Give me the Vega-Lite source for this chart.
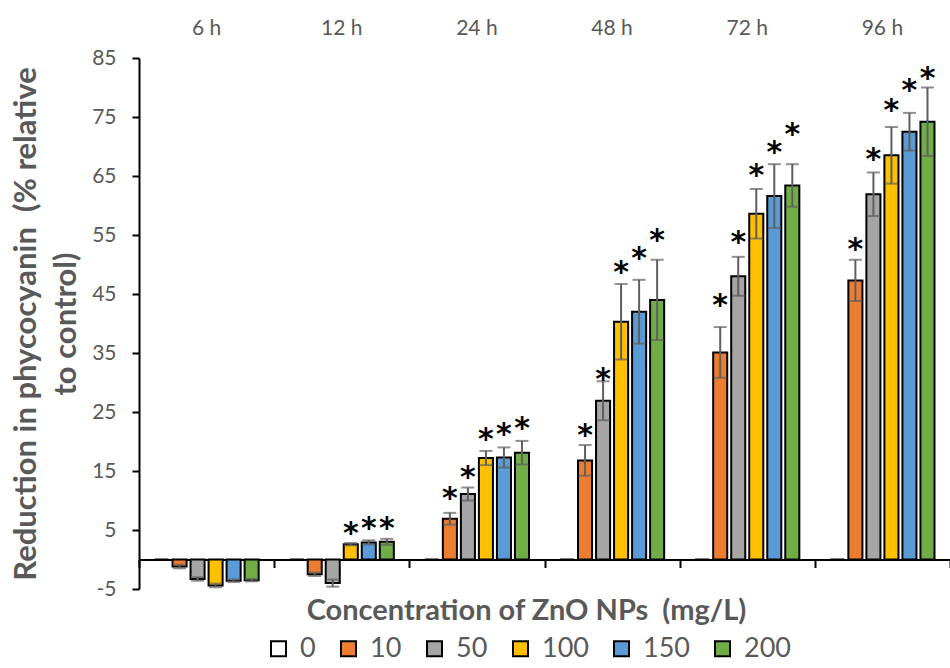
{
  "$schema": "https://vega.github.io/schema/vega-lite/v6.json",
  "width": 811,
  "height": 531,
  "autosize": {"type": "none"},
  "padding": {"left": 139, "top": 58, "right": 0, "bottom": 79},
  "background": "white",
  "config": {"view": {"stroke": null}, "font": "Lato", "axis": {"grid": false}},
  "data": {
    "values": [
      {"time": "6 h", "conc": "0", "v": 0, "lo": null, "hi": null, "star": null},
      {"time": "6 h", "conc": "10", "v": -1.2, "lo": -1.5, "hi": -0.9, "star": null},
      {"time": "6 h", "conc": "50", "v": -3.3, "lo": -3.6, "hi": -3.0, "star": null},
      {"time": "6 h", "conc": "100", "v": -4.4, "lo": -4.7, "hi": -4.1, "star": null},
      {"time": "6 h", "conc": "150", "v": -3.6, "lo": -3.8, "hi": -3.4, "star": null},
      {"time": "6 h", "conc": "200", "v": -3.5, "lo": -3.7, "hi": -3.3, "star": null},
      {"time": "12 h", "conc": "0", "v": 0, "lo": null, "hi": null, "star": null},
      {"time": "12 h", "conc": "10", "v": -2.5, "lo": -2.8, "hi": -2.2, "star": null},
      {"time": "12 h", "conc": "50", "v": -4.0, "lo": -4.6, "hi": -3.4, "star": null},
      {"time": "12 h", "conc": "100", "v": 2.6, "lo": 2.4, "hi": 2.8, "star": 5.6},
      {"time": "12 h", "conc": "150", "v": 2.9, "lo": 2.55, "hi": 3.25, "star": 6.6},
      {"time": "12 h", "conc": "200", "v": 3.0, "lo": 2.5, "hi": 3.5, "star": 6.6},
      {"time": "24 h", "conc": "0", "v": 0, "lo": null, "hi": null, "star": null},
      {"time": "24 h", "conc": "10", "v": 6.9, "lo": 5.9, "hi": 7.9, "star": 11.6},
      {"time": "24 h", "conc": "50", "v": 11.1, "lo": 10.0, "hi": 12.2, "star": 15.2},
      {"time": "24 h", "conc": "100", "v": 17.2, "lo": 16.0, "hi": 18.4, "star": 21.6},
      {"time": "24 h", "conc": "150", "v": 17.3, "lo": 15.6, "hi": 19.0, "star": 22.5},
      {"time": "24 h", "conc": "200", "v": 18.1, "lo": 16.1, "hi": 20.1, "star": 23.4},
      {"time": "48 h", "conc": "0", "v": 0, "lo": null, "hi": null, "star": null},
      {"time": "48 h", "conc": "10", "v": 16.8, "lo": 14.2, "hi": 19.4, "star": 22.3},
      {"time": "48 h", "conc": "50", "v": 26.9, "lo": 23.6, "hi": 30.2, "star": 31.8},
      {"time": "48 h", "conc": "100", "v": 40.3, "lo": 33.9, "hi": 46.7, "star": 49.9},
      {"time": "48 h", "conc": "150", "v": 42.0, "lo": 36.6, "hi": 47.4, "star": 52.3},
      {"time": "48 h", "conc": "200", "v": 44.0, "lo": 37.2, "hi": 50.8, "star": 55.3},
      {"time": "72 h", "conc": "0", "v": 0, "lo": null, "hi": null, "star": null},
      {"time": "72 h", "conc": "10", "v": 35.1, "lo": 30.8, "hi": 39.4, "star": 44.3},
      {"time": "72 h", "conc": "50", "v": 48.0, "lo": 44.7, "hi": 51.3, "star": 55.0},
      {"time": "72 h", "conc": "100", "v": 58.6, "lo": 54.4, "hi": 62.8, "star": 66.4},
      {"time": "72 h", "conc": "150", "v": 61.6, "lo": 56.2, "hi": 67.0, "star": 70.3},
      {"time": "72 h", "conc": "200", "v": 63.4, "lo": 59.8, "hi": 67.0, "star": 73.3},
      {"time": "96 h", "conc": "0", "v": 0, "lo": null, "hi": null, "star": null},
      {"time": "96 h", "conc": "10", "v": 47.3, "lo": 43.8, "hi": 50.8, "star": 53.8},
      {"time": "96 h", "conc": "50", "v": 61.9, "lo": 58.2, "hi": 65.6, "star": 69.1},
      {"time": "96 h", "conc": "100", "v": 68.5, "lo": 63.7, "hi": 73.3, "star": 77.3},
      {"time": "96 h", "conc": "150", "v": 72.5, "lo": 69.3, "hi": 75.7, "star": 80.7},
      {"time": "96 h", "conc": "200", "v": 74.2, "lo": 68.4, "hi": 80.0, "star": 82.8}
    ]
  },
  "encoding": {
    "x": {"field": "time", "type": "nominal", "sort": ["6 h", "12 h", "24 h", "48 h", "72 h", "96 h"], "scale": {"paddingInner": 0, "paddingOuter": 0}, "axis": null},
    "xOffset": {"field": "conc", "type": "nominal", "sort": ["0", "10", "50", "100", "150", "200"], "scale": {"paddingInner": 0.22, "paddingOuter": 0.86}}
  },
  "layer": [
    {
      "mark": {"type": "bar", "stroke": "black", "strokeWidth": 2},
      "encoding": {
        "x": {"field": "time", "type": "nominal", "sort": ["6 h", "12 h", "24 h", "48 h", "72 h", "96 h"], "scale": {"paddingInner": 0, "paddingOuter": 0},
          "axis": {"orient": "bottom", "offset": -29.5, "labels": false, "domainColor": "black", "domainWidth": 2, "tickColor": "black", "tickWidth": 2, "tickSize": 8, "tickBand": "extent",
            "title": "Concentration of ZnO NPs\u00a0 (mg/L)", "titleFontSize": 29, "titleFontWeight": "bold", "titleColor": "#595959", "titlePadding": 28, "titleX": 387}},
        "y": {"field": "v", "type": "quantitative", "scale": {"domain": [-5, 85], "nice": false, "zero": false},
          "axis": {"values": [-5, 5, 15, 25, 35, 45, 55, 65, 75, 85], "labelExpr": "'' + datum.value", "domainColor": "black", "domainWidth": 2, "tickColor": "black", "tickWidth": 2, "tickSize": 7,
            "labelFontSize": 21, "labelColor": "#595959", "labelPadding": 16,
            "title": ["Reduction in phycocyanin\u00a0 (% relative", "to control)"], "titleFontSize": 31, "titleFontWeight": "bold", "titleColor": "#595959", "titleLineHeight": 40, "titlePadding": 9}},
        "fill": {"field": "conc", "type": "nominal", "sort": ["0", "10", "50", "100", "150", "200"],
          "scale": {"domain": ["0", "10", "50", "100", "150", "200"], "range": ["#ffffff", "#ED7D31", "#A5A5A5", "#FFC000", "#5B9BD5", "#70AD47"]},
          "legend": {"orient": "none", "legendX": 126, "legendY": 577, "direction": "horizontal", "title": null, "symbolType": "square", "symbolSize": 225,
            "symbolStrokeColor": "black", "symbolStrokeWidth": 2, "labelFontSize": 27, "labelColor": "#595959", "labelOffset": 8, "columnPadding": 19}}
      }
    },
    {
      "mark": {"type": "rule", "color": "#5f5f5f", "strokeWidth": 2},
      "encoding": {
        "x": {"field": "time", "type": "nominal", "sort": ["6 h", "12 h", "24 h", "48 h", "72 h", "96 h"], "scale": {"paddingInner": 0, "paddingOuter": 0},
          "axis": {"orient": "top", "domain": false, "ticks": false, "tickSize": 0, "labelFontSize": 21, "labelColor": "#595959", "labelPadding": 20, "title": null, "labelAngle": 0}},
        "y": {"field": "lo", "type": "quantitative"},
        "y2": {"field": "hi"}
      }
    },
    {
      "mark": {"type": "tick", "color": "#5f5f5f", "thickness": 2, "size": 13},
      "encoding": {"y": {"field": "hi", "type": "quantitative"}}
    },
    {
      "mark": {"type": "tick", "color": "#5f5f5f", "thickness": 2, "size": 13},
      "encoding": {"y": {"field": "lo", "type": "quantitative"}}
    },
    {
      "transform": [{"filter": "datum.star != null"}],
      "mark": {"type": "text", "text": "*", "font": "DejaVu Sans", "fontSize": 30, "fontWeight": "bold", "baseline": "alphabetic", "dy": 17, "color": "black"},
      "encoding": {"y": {"field": "star", "type": "quantitative"}}
    }
  ]
}
